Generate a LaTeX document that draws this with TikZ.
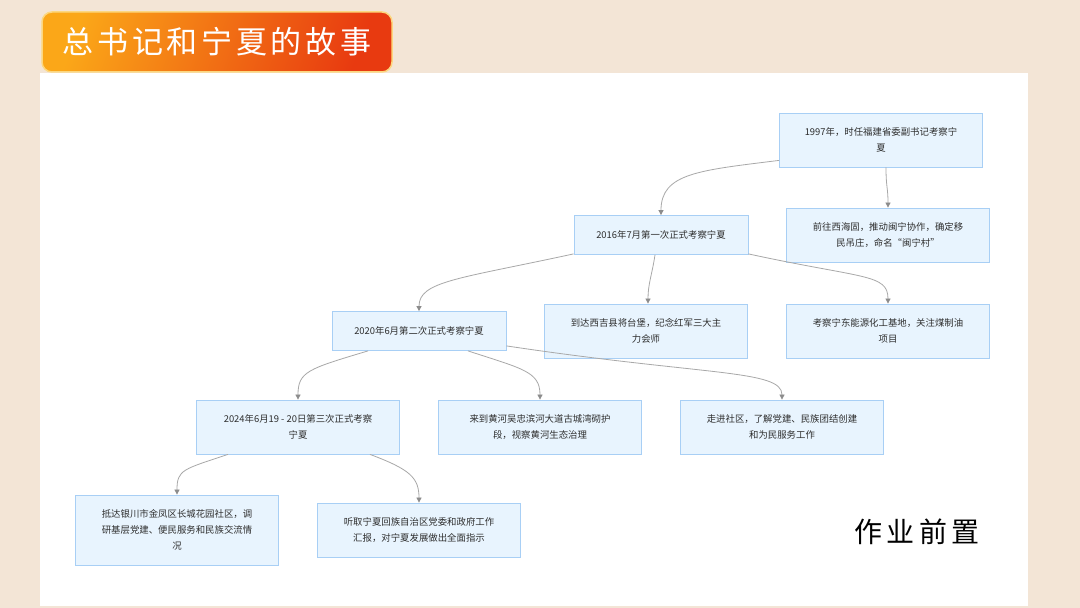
\documentclass[tikz,border=0pt]{standalone}
\usepackage{fontspec}
\setmainfont{Noto Sans CJK SC}
\newfontfamily\titlefont[LetterSpace=12]{Noto Sans CJK SC}
\newfontfamily\notefont[LetterSpace=16]{Noto Sans CJK SC}
\usepackage{xcolor}
\usepackage{tikz}
\usetikzlibrary{positioning, arrows.meta, shapes.geometric}

\definecolor{pagebg}{HTML}{F3E5D6}
\definecolor{boxfill}{HTML}{E8F4FE}
\definecolor{boxline}{HTML}{A8CFF5}
\definecolor{linkgray}{HTML}{A8A8A8}
\definecolor{tipgray}{HTML}{8C8C8C}
\definecolor{textgray}{HTML}{2E2E2E}
\definecolor{bannerrim}{HTML}{FCD77F}
\definecolor{bannerleft}{HTML}{FBA718}
\definecolor{bannerright}{HTML}{E83A10}

\begin{document}
\begin{tikzpicture}[
    x=1pt, y=1pt,
    event/.style={rectangle, draw=boxline, fill=boxfill, line width=0.8pt,
        minimum width=203pt, minimum height=54pt, align=center, text=textgray,
        font=\fontsize{9.4}{16}\selectfont},
    visit/.style={event, minimum width=174pt, minimum height=39pt},
    link/.style={draw=linkgray, line width=0.8pt,
        -{Triangle[length=5pt, width=5pt, fill=tipgray, color=tipgray]}}
]

% background and panel
\fill[pagebg] (0,0) rectangle (1080,608);
\fill[white] (40,2) rectangle (1028,535);
\useasboundingbox (0,0) rectangle (1080,608);

% title
\node[rectangle, rounded corners=10pt, draw=bannerrim, line width=1.5pt,
      left color=bannerleft, right color=bannerright,
      shading angle=70, minimum width=350pt, minimum height=60pt] (banner) at (217,566) {};
\node[text=white, font=\titlefont\fontsize{31}{31}\selectfont] (title) at (217,566) {总书记和宁夏的故事};

% events
\node[event] (y97) at (881,468) {1997年，时任福建省委副书记考察宁\\夏};
\node[event] (y97a) at (888,373) {前往西海固，推动闽宁协作，确定移\\民吊庄，命名“闽宁村”};
\node[visit] (y16) at (661,373) {2016年7月第一次正式考察宁夏};
\node[event] (y16a) at (646,277) {到达西吉县将台堡，纪念红军三大主\\力会师};
\node[event] (y16b) at (888,277) {考察宁东能源化工基地，关注煤制油\\项目};
\node[visit] (y20) at (419,277) {2020年6月第二次正式考察宁夏};
\node[event] (y24) at (298,181) {2024年6月19 - 20日第三次正式考察\\宁夏};
\node[event] (y20a) at (540,181) {来到黄河吴忠滨河大道古城湾砌护\\段，视察黄河生态治理};
\node[event] (y20b) at (782,181) {走进社区，了解党建、民族团结创建\\和为民服务工作};
\node[event, minimum height=70pt] (y24a) at (177,78) {抵达银川市金凤区长城花园社区，调\\研基层党建、便民服务和民族交流情\\况};
\node[event] (y24b) at (419,78) {听取宁夏回族自治区党委和政府工作\\汇报，对宁夏发展做出全面指示};

% links
\draw[link] ([yshift=7pt]y97.south west) .. controls +(-80,-10) and +(0,42) .. (y16.north);
\draw[link] ([xshift=5pt]y97.south) .. controls +(0,-20) and +(0,20) .. (y97a.north);
\draw[link] ([yshift=1pt]y16.south west) .. controls +(-115,-25) and +(0,30) .. (y20.north);
\draw[link] ([xshift=-6pt]y16.south) .. controls +(-3,-20) and +(0,20) .. ([xshift=2pt]y16a.north);
\draw[link] ([yshift=1pt]y16.south east) .. controls +(115,-25) and +(0,30) .. (y16b.north);
\draw[link] ([xshift=-51pt]y20.south) .. controls +(-60,-18) and +(0,28) .. (y24.north);
\draw[link] ([xshift=49pt]y20.south) .. controls +(55,-18) and +(0,28) .. (y20a.north);
\draw[link] ([yshift=5pt]y20.south east) .. controls +(200,-30) and +(0,30) .. (y20b.north);
\draw[link] ([xshift=-70pt]y24.south) .. controls +(-45,-15) and +(0,25) .. (y24a.north);
\draw[link] ([xshift=72pt]y24.south) .. controls +(40,-15) and +(0,25) .. (y24b.north);

\node[font=\notefont\fontsize{28}{28}\selectfont] (note) at (917,76) {作业前置};

\end{tikzpicture}
\end{document}
